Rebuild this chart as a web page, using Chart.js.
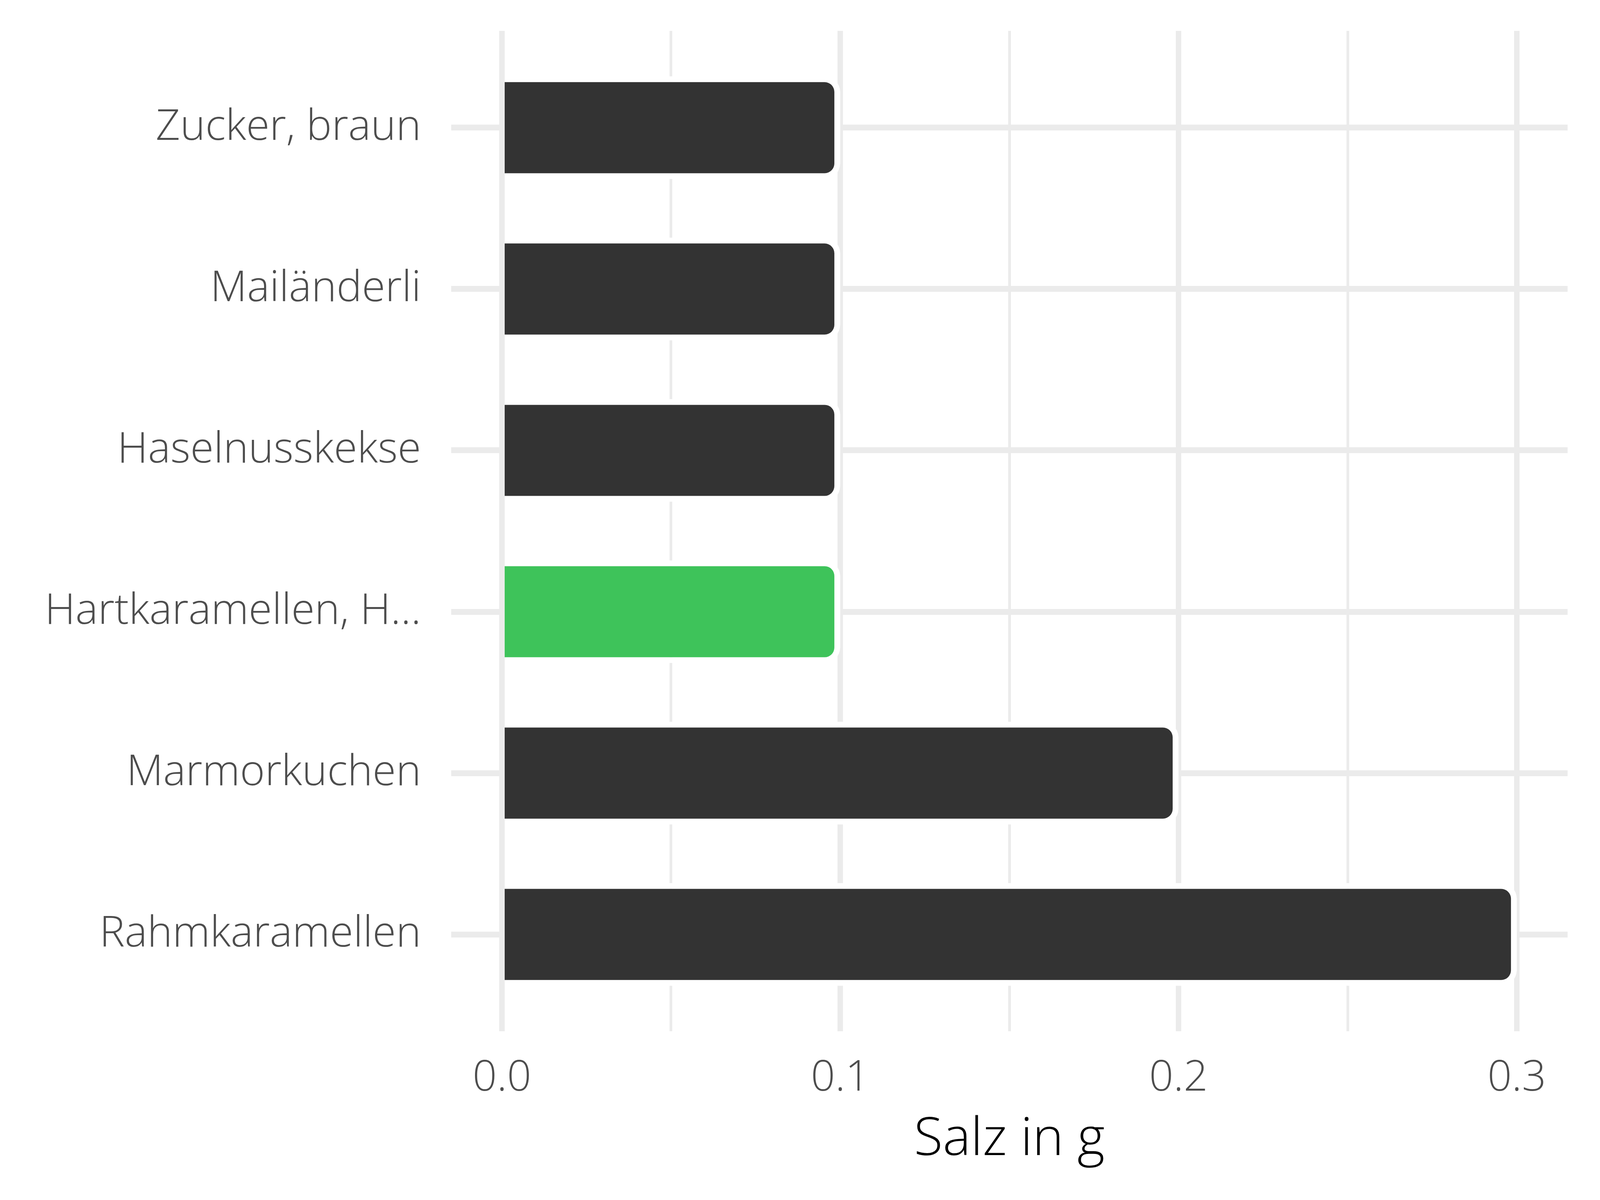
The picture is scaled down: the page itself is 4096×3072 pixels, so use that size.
<!DOCTYPE html>
<html>
<head>
<meta charset="utf-8">
<script src="https://cdn.jsdelivr.net/npm/chart.js@4/dist/chart.umd.min.js"></script>
<style>
  html, body { margin: 0; padding: 0; background: #ffffff; }
  #wrap { width: 4096px; height: 3072px; position: relative; }
</style>
</head>
<body>
<div id="wrap"><canvas id="salzChart"></canvas></div>
<script>
const categories = ['Zucker, braun', 'Mailänderli', 'Haselnusskekse', 'Hartkaramellen, H...', 'Marmorkuchen', 'Rahmkaramellen'];
const saltValues = [0.1, 0.1, 0.1, 0.1, 0.2, 0.3];
const barColors = ['#333333', '#333333', '#333333', '#3EC35A', '#333333', '#333333'];
const xTickValues = [0, 0.05, 0.1, 0.15, 0.2, 0.25, 0.3];
const xMajorTicks = [0, 0.1, 0.2, 0.3];
const xTickLabels = ['0.0', '0.1', '0.2', '0.3'];
const xTitle = 'Salz in g';

const FONT = "'Open Sans', 'DejaVu Sans', sans-serif";

function majorIndex(v) {
    return xMajorTicks.findIndex(m => Math.abs(m - v) < 1e-9);
}

// no extra room for half labels, the layout padding does the job
function noScalePadding(scale) {
    scale.paddingTop = 0;
    scale.paddingBottom = 0;
    scale.paddingLeft = 0;
    scale.paddingRight = 0;
}

let myChart;

function drawChart() {
    const ctx = document.getElementById('salzChart').getContext('2d');
    const points = saltValues.map((v, i) => ({ x: v, y: i }));

    myChart = new Chart(ctx, {
        type: 'bar',
        data: {
            datasets: [{
                data: points,
                backgroundColor: barColors,
                borderColor: '#ffffff',
                borderWidth: 15,
                borderSkipped: 'start',
                borderRadius: 40,
                categoryPercentage: 1,
                barPercentage: 0.637
            }]
        },
        options: {
            indexAxis: 'y',
            animation: false,
            responsive: true,
            maintainAspectRatio: false,
            layout: { autoPadding: false, padding: { top: 79, right: 83, bottom: 0, left: 0 } },
            scales: {
                x: {
                    type: 'linear',
                    min: -0.015,
                    max: 0.315,
                    offset: false,
                    afterBuildTicks: (scale) => { scale.ticks = xTickValues.map(v => ({ value: v })); },
                    afterFit: (scale) => { scale.height = 432; noScalePadding(scale); },
                    border: { display: false },
                    grid: {
                        offset: false,
                        color: '#EBEBEB',
                        lineWidth: (c) => majorIndex(c.tick.value) >= 0 ? 14 : 7,
                        drawTicks: false
                    },
                    ticks: {
                        autoSkip: false,
                        maxRotation: 0,
                        padding: 56,
                        color: '#4D4D4D',
                        font: { family: FONT, size: 109, weight: '300' },
                        callback: (v) => { const k = majorIndex(v); return k >= 0 ? xTickLabels[k] : ''; }
                    },
                    title: {
                        display: true,
                        text: xTitle,
                        color: '#000000',
                        font: { family: FONT, size: 135, weight: '300' },
                        padding: { top: 0, bottom: 72 }
                    }
                },
                y: {
                    type: 'linear',
                    reverse: true,
                    min: -0.6,
                    max: categories.length - 0.4,
                    offset: false,
                    afterBuildTicks: (scale) => { scale.ticks = categories.map((c, i) => ({ value: i })); },
                    afterFit: (scale) => { scale.width = 1155; noScalePadding(scale); },
                    border: { display: false },
                    grid: { offset: false, color: '#EBEBEB', lineWidth: 15, drawTicks: false },
                    ticks: {
                        autoSkip: false,
                        padding: 77,
                        color: '#4D4D4D',
                        font: { family: FONT, size: 109, weight: '300' },
                        callback: (v) => categories[Math.round(v)] ?? ''
                    }
                }
            },
            plugins: { legend: { display: false }, tooltip: { enabled: false } }
        }
    });
}

window.onload = () => drawChart();
</script>
</body>
</html>
